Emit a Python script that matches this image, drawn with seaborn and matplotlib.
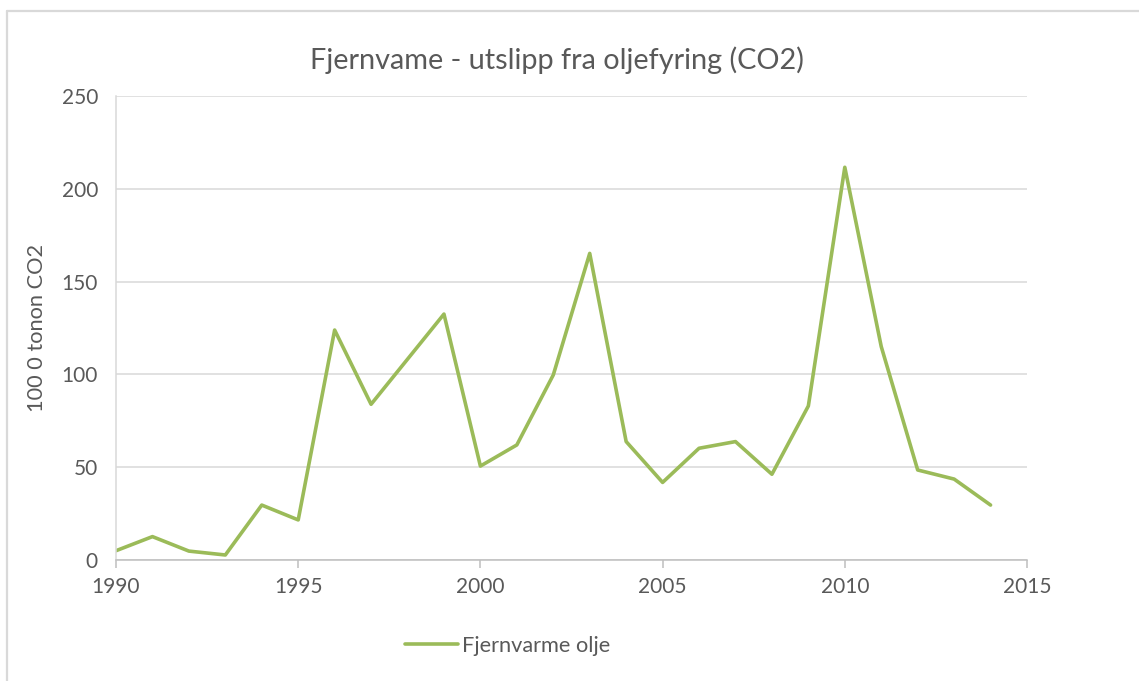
import matplotlib
matplotlib.use("Agg")
import matplotlib.pyplot as plt
import seaborn as sns
import pandas as pd
from matplotlib.lines import Line2D

years = [1990, 1991, 1992, 1993, 1994, 1995, 1996, 1997, 1998, 1999,
         2000, 2001, 2002, 2003, 2004, 2005, 2006, 2007, 2008, 2009,
         2010, 2011, 2012, 2013, 2014]
values = [5.0, 12.6, 4.8, 2.7, 29.6, 21.6, 123.9, 83.9, 108.2, 132.5,
          50.6, 62.0, 99.7, 165.2, 63.8, 41.8, 60.2, 63.8, 46.2, 83.0,
          211.6, 115.0, 48.5, 43.6, 29.6]
series_name = "Fjernvarme olje"
title = "Fjernvame - utslipp fra oljefyring (CO2)"
ylabel = "100 0 tonon CO2"
xticks = [1990, 1995, 2000, 2005, 2010, 2015]
yticks = [0, 50, 100, 150, 200, 250]

sns.set_theme(style="white")
plt.rcParams['font.family'] = ['Lato', 'DejaVu Sans']

W, H = 1139, 681
fig = plt.figure(figsize=(W / 100, H / 100), dpi=100)
ax = fig.add_axes([116 / W, 1 - 560 / H, (1027 - 116) / W, (560 - 96) / H])

df = pd.DataFrame({"year": years, "value": values, "series": series_name})
sns.lineplot(data=df, x="year", y="value", ax=ax, color="#9BBB59",
             linewidth=2.6, legend=False)

txt = "#595959"
ax.set_xlim(1990, 2015)
ax.set_ylim(0, 250)
ax.set_xticks(xticks)
ax.set_yticks(yticks)
ax.set_xticklabels([str(t) for t in xticks], fontsize=15, color=txt)
ax.set_yticklabels([str(t) for t in yticks], fontsize=15, color=txt)
ax.yaxis.grid(True, color="#D9D9D9", linewidth=1.1)
ax.xaxis.grid(False)
for s in ["top", "right"]:
    ax.spines[s].set_visible(False)
ax.spines["bottom"].set_color("#BFBFBF")
ax.spines["bottom"].set_linewidth(1.1)
ax.spines["left"].set_color("#D9D9D9")
ax.spines["left"].set_linewidth(1.1)
ax.tick_params(axis="x", which="major", direction="out", length=6,
               width=1.1, color="#BFBFBF", pad=6, bottom=True)
ax.tick_params(axis="y", length=0, pad=13)
ax.set_xlabel("")
ax.set_ylabel(ylabel, fontsize=15.7, color=txt)
ax.yaxis.set_label_coords((37 - 116) / 911, 0.5)
ax.yaxis.label.set_va("center")

fig.text(556.5 / W, 1 - 60 / H, title, ha="center", va="center",
         fontsize=20.8, color=txt)

handle = Line2D([], [], color="#9BBB59", linewidth=2.6)
fig.legend([handle], [series_name], loc="center left",
           bbox_to_anchor=(405 / W, 1 - 646 / H), frameon=False,
           fontsize=15.7, handlelength=2.43, handletextpad=0.18,
           borderpad=0, borderaxespad=0, labelcolor=txt)

fig.add_artist(Line2D([7 / W, 1], [1 - 11 / H, 1 - 11 / H],
                      transform=fig.transFigure, color="#D9D9D9", linewidth=1.6))
fig.add_artist(Line2D([7 / W, 7 / W], [0, 1 - 11 / H],
                      transform=fig.transFigure, color="#D9D9D9", linewidth=1.6))

fig.savefig("out.png", dpi=100, facecolor="white")
